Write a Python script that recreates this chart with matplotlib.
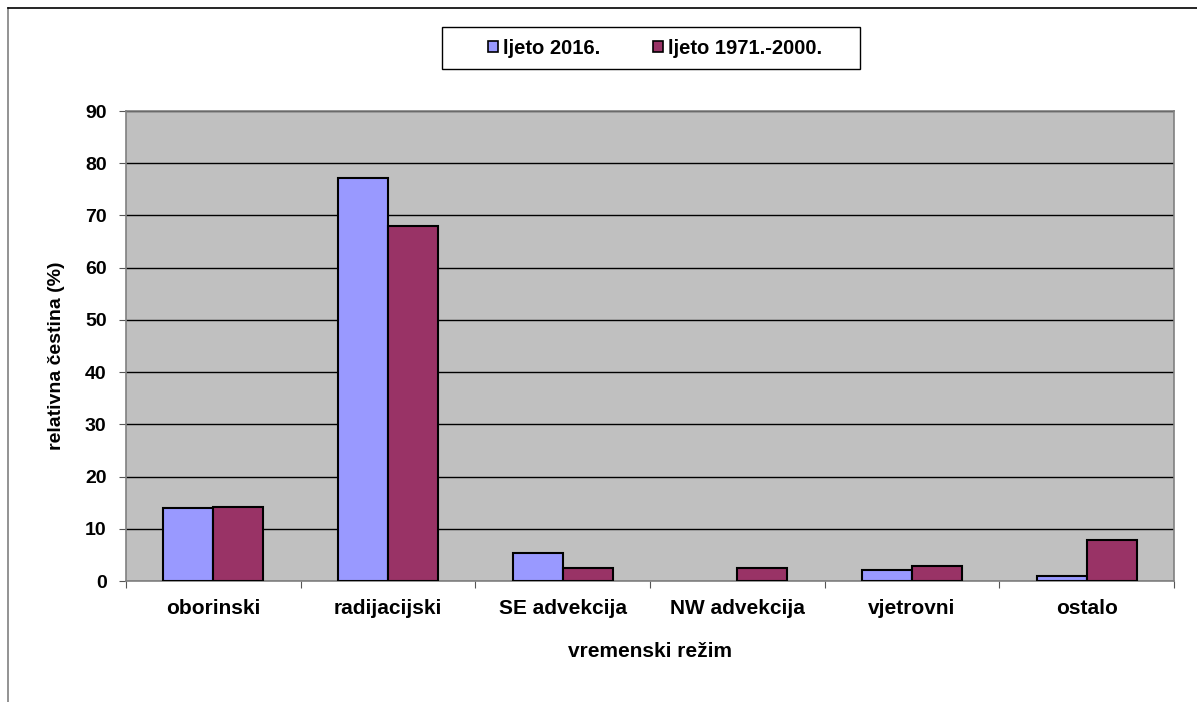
import numpy as np
import matplotlib.pyplot as plt
from matplotlib.patches import Rectangle
from matplotlib.lines import Line2D

categories = ["oborinski", "radijacijski", "SE advekcija", "NW advekcija", "vjetrovni", "ostalo"]
ljeto_2016 = [14.0, 77.1, 5.3, 0.0, 2.1, 1.0]
ljeto_1971_2000 = [14.1, 67.9, 2.5, 2.5, 2.9, 7.8]
series_labels = ["ljeto 2016.", "ljeto 1971.-2000."]
colors = ["#9999FF", "#993366"]

plt.rcParams["font.family"] = ["Liberation Sans", "DejaVu Sans"]
plt.rcParams["font.weight"] = "bold"

W, H = 1197, 702
fig = plt.figure(figsize=(W / 100, H / 100), dpi=100)
ax = fig.add_axes([126 / W, 1 - 581 / H, (1174 - 126) / W, (581 - 111) / H])

x = np.arange(len(categories))
w = 0.2857
for vals, off, c in [(ljeto_2016, -w / 2, colors[0]), (ljeto_1971_2000, w / 2, colors[1])]:
    lw = [1.5 if v > 0 else 0 for v in vals]
    ax.bar(x + off, vals, w, color=c, edgecolor="black", linewidth=lw, zorder=3)

ax.set_facecolor("#C0C0C0")
ax.set_xlim(-0.5, len(categories) - 0.5)
ax.set_ylim(0, 90)
ax.set_yticks(range(0, 91, 10))
ax.yaxis.grid(True, color="black", linewidth=1.0, zorder=1)
ax.set_axisbelow(True)
ax.set_xticks(np.arange(-0.5, len(categories), 1.0))
ax.set_xticklabels([])
ax.set_xticks(x, minor=True)
ax.set_xticklabels(categories, minor=True, fontsize=15, fontweight="bold")
ax.tick_params(axis="x", which="minor", length=0, pad=13)
ax.tick_params(axis="x", which="major", length=5, color="#555555", direction="out")
ax.tick_params(axis="y", length=5, color="#555555", labelsize=14, pad=9)
for lbl in ax.get_yticklabels():
    lbl.set_fontweight("bold")
for s in ax.spines.values():
    s.set_color("#808080")
    s.set_linewidth(1.2)

ax.set_xlabel("vremenski režim", fontsize=15, fontweight="bold", labelpad=17)
ax.set_ylabel("relativna čestina (%)", fontsize=14, fontweight="bold")
ax.yaxis.set_label_coords(-0.058, 0.479)

# legend box across the top
fig.add_artist(Rectangle((442 / W, 1 - 69 / H), (860 - 442) / W, (69 - 27) / H,
                         transform=fig.transFigure, facecolor="white", edgecolor="black",
                         linewidth=1.0))
handles = [Rectangle((0, 0), 1, 1, facecolor=c, edgecolor="black", linewidth=1.2) for c in colors]
leg = fig.legend(handles, series_labels, loc="center", bbox_to_anchor=(655 / W, 1 - 48 / H),
                 ncol=2, fontsize=14.5, frameon=False, handlelength=0.5,
                 handleheight=0.5, handletextpad=0.25, columnspacing=2.6,
                 borderpad=0, borderaxespad=0)
for t in leg.get_texts():
    t.set_fontweight("bold")

# outer chart frame (left and top edges)
fig.add_artist(Line2D([8 / W, 8 / W], [0, 1 - 8 / H], color="#808080", linewidth=1.2,
                      transform=fig.transFigure))
fig.add_artist(Line2D([8 / W, 1], [1 - 8 / H, 1 - 8 / H], color="black", linewidth=1.2,
                      transform=fig.transFigure))

fig.savefig("out.png", dpi=100)
